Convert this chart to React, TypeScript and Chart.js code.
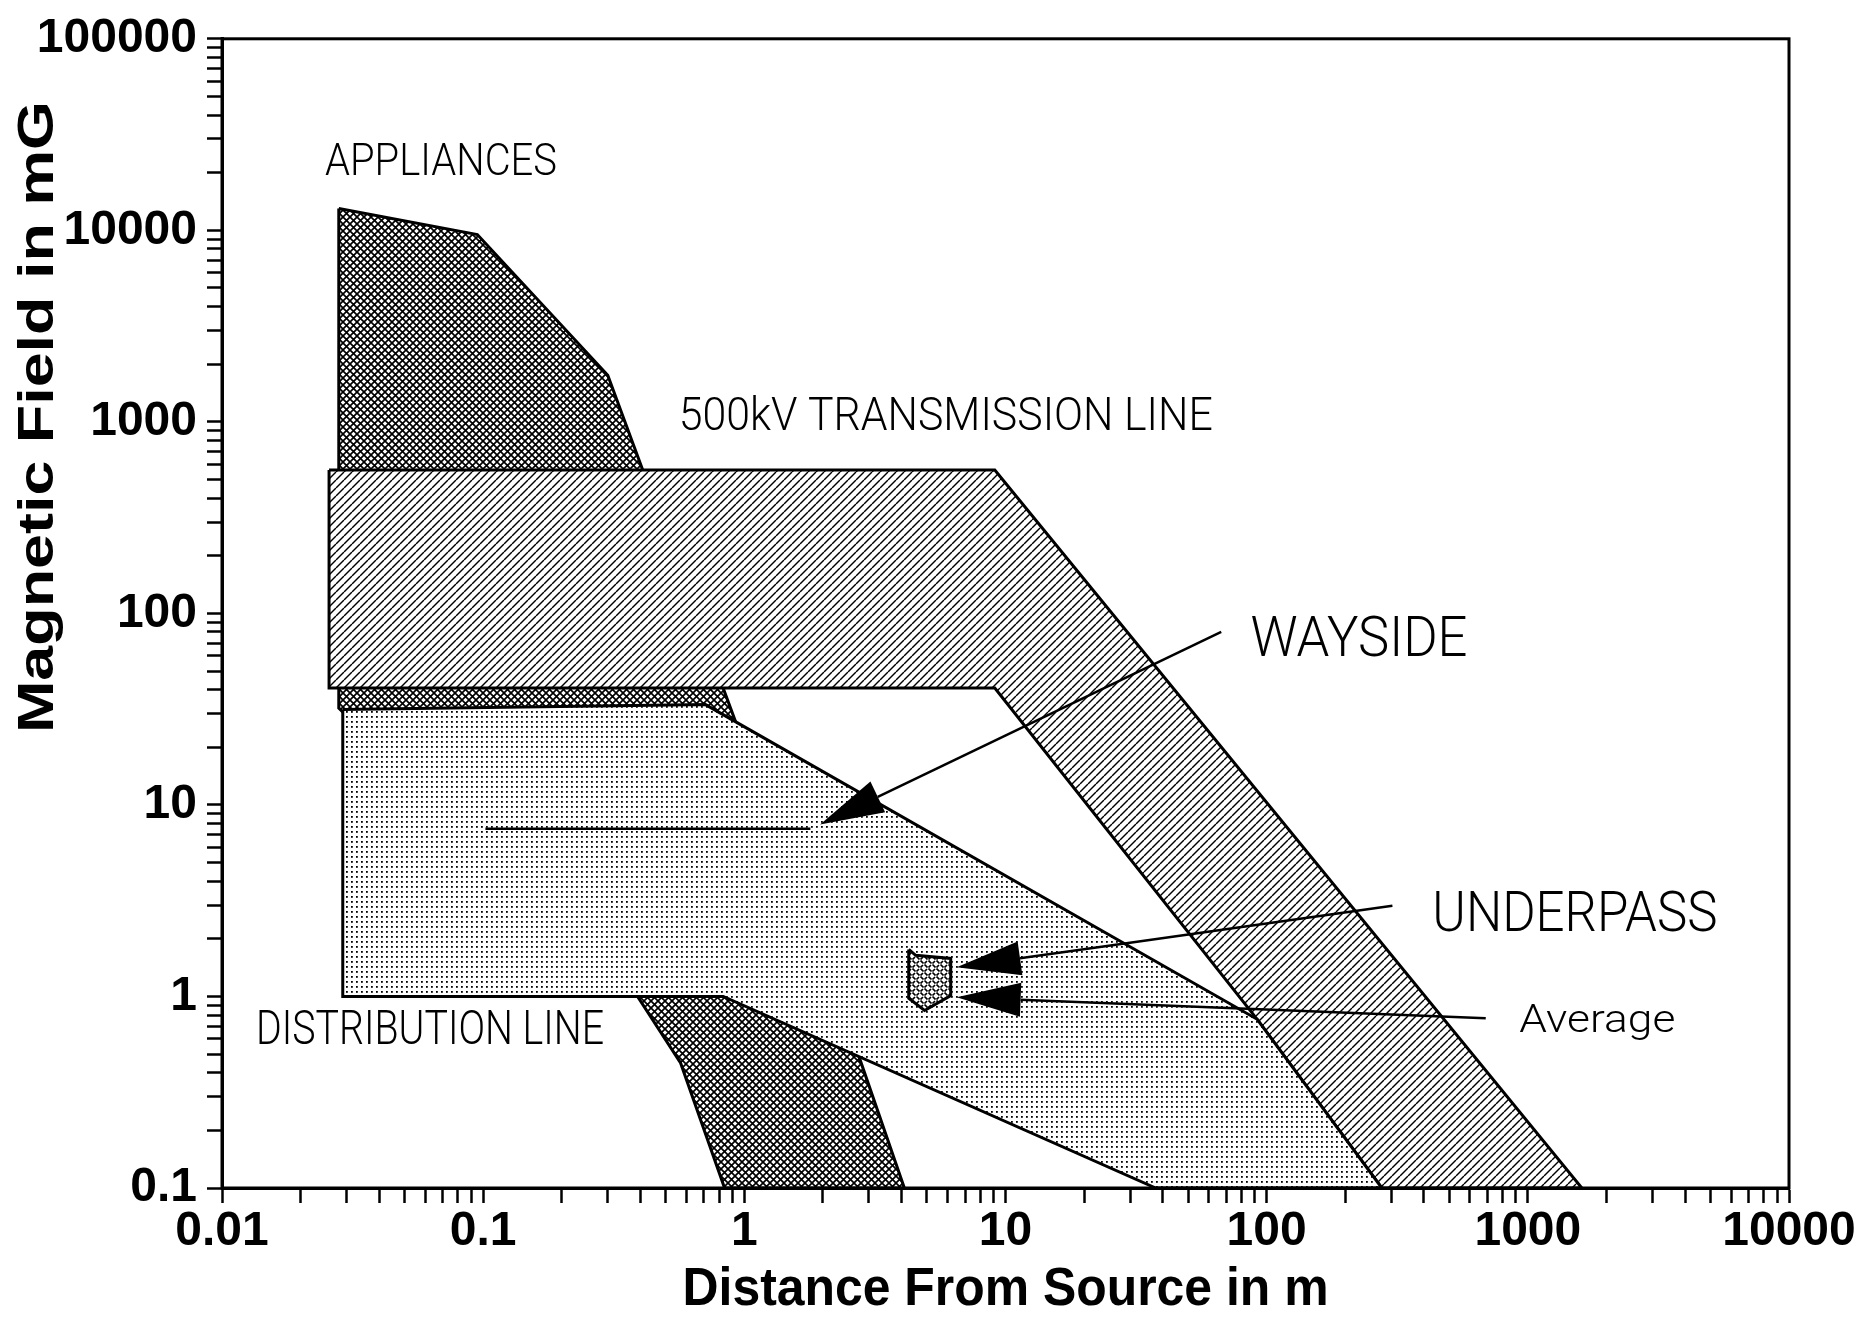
import React, { useEffect, useRef } from 'react';
import { Chart, registerables } from 'chart.js';

Chart.register(...registerables);

// ---------- data ----------
const xTickLabels = ['0.01', '0.1', '1', '10', '100', '1000', '10000'];
const yTickLabels = ['0.1', '1', '10', '100', '1000', '10000', '100000'];

const appliancesX = [0.028, 0.095, 0.3, 2.7, 4.1, 0.84, 0.57, 0.39, 0.04, 0.028, 0.028];
const appliancesY = [13000, 9500, 1750, 0.52, 0.1, 0.1, 0.45, 1.0, 20, 32, 13000];

const transmissionX = [0.0257, 9.1, 1610, 276, 92, 9.1, 0.0257, 0.0257];
const transmissionY = [560, 560, 0.1, 0.1, 0.76, 40.8, 40.8, 560];

const distributionX = [0.029, 0.71, 92, 276, 37.6, 0.83, 0.029, 0.029];
const distributionY = [31.5, 33.4, 0.76, 0.1, 0.1, 1.0, 1.0, 31.5];

const underpassX = [4.26, 4.53, 6.17, 6.17, 4.9, 4.26, 4.26];
const underpassY = [1.76, 1.64, 1.58, 1.01, 0.845, 0.98, 1.76];

const waysideX = [0.102, 1.79];
const waysideY = [7.5, 7.5];

const arrowTailX = [67, 303, 690];
const arrowTailY = [80, 2.98, 0.77];
const arrowTipX = [1.95, 6.5, 6.5];
const arrowTipY = [7.9, 1.42, 0.99];

const labelTexts = ['APPLIANCES', '500kV TRANSMISSION LINE', 'WAYSIDE', 'UNDERPASS', 'Average', 'DISTRIBUTION LINE'];
const labelX = [0.0248, 0.561, 86.7, 431, 928, 0.0135];
const labelY = [23650, 1104, 76.6, 2.78, 0.776, 0.689];

const xTitle = 'Distance From Source in m';
const yTitle = 'Magnetic Field in mG';

// ---------- styles ----------
const labelStyle = {
  cap: [32, 33, 40, 40, 28, 34],
  width: [232, 534, 217, 285, 156, 348],
};
const LABEL_FONT = 'Roboto, "DejaVu Sans", sans-serif';
const AXIS_FONT = '"Liberation Sans", Arial, sans-serif';

function makePattern(kind: string): CanvasPattern | string {
  const c = document.createElement('canvas');
  const s = kind === 'cross' ? 7 : kind === 'diag' ? 8 : kind === 'dots' ? 5 : 8;
  c.width = s;
  c.height = s;
  const g = c.getContext('2d')!;
  g.fillStyle = '#fff';
  g.fillRect(0, 0, s, s);
  g.strokeStyle = '#000';
  g.fillStyle = '#000';
  if (kind === 'cross') {
    g.lineWidth = 1.7;
    for (const k of [-s, 0, s]) {
      g.beginPath();
      g.moveTo(k, 0); g.lineTo(k + s, s);
      g.moveTo(k + s, 0); g.lineTo(k, s);
      g.stroke();
    }
  } else if (kind === 'diag') {
    g.lineWidth = 1.4;
    for (const k of [-s, 0, s]) {
      g.beginPath();
      g.moveTo(k, s); g.lineTo(k + s, 0);
      g.stroke();
    }
  } else if (kind === 'dots') {
    g.fillRect(1, 1, 1.8, 1.8);
  } else {
    g.lineWidth = 1.7;
    g.beginPath();
    g.moveTo(0.5, 0.5); g.lineTo(3.5, 3.5);
    g.moveTo(4.5, 4.5); g.lineTo(7.5, 7.5);
    g.moveTo(4.5, 3.5); g.lineTo(7, 1);
    g.moveTo(0.5, 7.5); g.lineTo(3, 5);
    g.stroke();
  }
  return g.createPattern(c, 'repeat') || '#ccc';
}

function buildLogTicks(minExp: number, maxExp: number) {
  const out: { value: number }[] = [];
  for (let e = minExp; e < maxExp; e++) {
    for (let m = 1; m <= 9; m++) out.push({ value: Number((m * Math.pow(10, e)).toPrecision(12)) });
  }
  out.push({ value: Math.pow(10, maxExp) });
  return out;
}

function tickLabel(v: number, labels: string[], minExp: number) {
  const e = Math.log10(v);
  const r = Math.round(e);
  if (Math.abs(e - r) < 1e-6) return labels[r - minExp] ?? '';
  return '';
}

function drawFitted(ctx: CanvasRenderingContext2D, text: string, x: number, yMid: number, cap: number, width: number, font: string, weight: string) {
  const size = cap / 0.711;
  ctx.font = `${weight} ${size}px ${font}`;
  const w = ctx.measureText(text).width;
  ctx.save();
  ctx.translate(x, yMid);
  ctx.scale(width / w, 1);
  ctx.textAlign = 'left';
  ctx.textBaseline = 'alphabetic';
  ctx.fillStyle = '#000';
  ctx.fillText(text, 0, cap / 2);
  ctx.restore();
}

const annotPlugin = {
  id: 'annot',
  afterDatasetsDraw(chart: any) {
    const ctx: CanvasRenderingContext2D = chart.ctx;
    const xs = chart.scales.x;
    const ys = chart.scales.y;
    ctx.save();
    // arrows
    for (let i = 0; i < arrowTailX.length; i++) {
      const tx = xs.getPixelForValue(arrowTailX[i]);
      const ty = ys.getPixelForValue(arrowTailY[i]);
      const px = xs.getPixelForValue(arrowTipX[i]);
      const py = ys.getPixelForValue(arrowTipY[i]);
      const dx = tx - px, dy = ty - py;
      const len = Math.hypot(dx, dy);
      const ux = dx / len, uy = dy / len;
      const headLen = 64, headHalf = 17;
      const bx = px + ux * headLen, by = py + uy * headLen;
      ctx.strokeStyle = '#000';
      ctx.lineWidth = 2.5;
      ctx.beginPath();
      ctx.moveTo(tx, ty);
      ctx.lineTo(bx, by);
      ctx.stroke();
      ctx.fillStyle = '#000';
      ctx.beginPath();
      ctx.moveTo(px, py);
      ctx.lineTo(bx - uy * headHalf, by + ux * headHalf);
      ctx.lineTo(bx + uy * headHalf, by - ux * headHalf);
      ctx.closePath();
      ctx.fill();
    }
    // labels
    for (let i = 0; i < labelTexts.length; i++) {
      const x = xs.getPixelForValue(labelX[i]);
      const y = ys.getPixelForValue(labelY[i]);
      drawFitted(ctx, labelTexts[i], x, y, labelStyle.cap[i], labelStyle.width[i], LABEL_FONT, '300');
    }
    ctx.restore();
  },
  afterDraw(chart: any) {
    const ctx: CanvasRenderingContext2D = chart.ctx;
    const a = chart.chartArea;
    ctx.save();
    ctx.strokeStyle = '#000';
    ctx.lineWidth = 3;
    ctx.strokeRect(a.left, a.top, a.right - a.left, a.bottom - a.top);
    // x title
    const xMid = (a.left + a.right) / 2;
    ctx.font = `bold 53px ${AXIS_FONT}`;
    let w = ctx.measureText(xTitle).width;
    ctx.save();
    ctx.translate(xMid, 1290);
    ctx.scale(646 / w, 1);
    ctx.textAlign = 'center';
    ctx.textBaseline = 'middle';
    ctx.fillStyle = '#000';
    ctx.fillText(xTitle, 0, 0);
    ctx.restore();
    // y title
    ctx.font = `bold 50px ${AXIS_FONT}`;
    w = ctx.measureText(yTitle).width;
    ctx.save();
    ctx.translate(39, 417);
    ctx.rotate(-Math.PI / 2);
    ctx.scale(632 / w, 1);
    ctx.textAlign = 'center';
    ctx.textBaseline = 'middle';
    ctx.fillStyle = '#000';
    ctx.fillText(yTitle, 0, 0);
    ctx.restore();
    ctx.restore();
  },
};

function toPoints(xs: number[], ys: number[]) {
  return xs.map((x, i) => ({ x, y: ys[i] }));
}

export default function App() {
  const ref = useRef<HTMLCanvasElement>(null);
  useEffect(() => {
    const canvas = ref.current!;
    const cross = makePattern('cross');
    const diag = makePattern('diag');
    const dots = makePattern('dots');
    const weave = makePattern('weave');
    const shape = (label: string, xs: number[], ys: number[], bg: any, order: number) => ({
      label,
      data: toPoints(xs, ys),
      fill: 'shape',
      backgroundColor: bg,
      borderColor: '#000',
      borderWidth: 3,
      borderJoinStyle: 'miter',
      pointRadius: 0,
      tension: 0,
      order,
    });
    const chart = new Chart(canvas, {
      type: 'line',
      data: {
        datasets: [
          shape('Appliances', appliancesX, appliancesY, cross, 5) as any,
          shape('500kV Transmission Line', transmissionX, transmissionY, diag, 4) as any,
          shape('Distribution Line', distributionX, distributionY, dots, 3) as any,
          shape('Underpass', underpassX, underpassY, weave, 2) as any,
          {
            label: 'Wayside',
            data: toPoints(waysideX, waysideY),
            fill: false,
            borderColor: '#000',
            borderWidth: 2.5,
            pointRadius: 0,
            order: 1,
          } as any,
        ],
      },
      options: {
        responsive: false,
        animation: false,
        devicePixelRatio: 1,
        layout: { padding: { left: 0, top: 38, right: 79, bottom: 0 } },
        plugins: { legend: { display: false }, tooltip: { enabled: false } },
        events: [],
        scales: {
          x: {
            type: 'logarithmic',
            position: 'bottom',
            min: 0.01,
            max: 10000,
            afterBuildTicks: (s: any) => { s.ticks = buildLogTicks(-2, 4); },
            afterFit: (s: any) => { s.height = 131; },
            grid: { drawOnChartArea: false, drawTicks: true, tickLength: 15, tickWidth: 2.5, tickColor: '#000' },
            border: { display: true, color: '#000', width: 3 },
            ticks: {
              autoSkip: false,
              maxRotation: 0,
              minRotation: 0,
              padding: 0,
              color: '#000',
              font: { family: AXIS_FONT, size: 48, weight: 'bold' },
              callback: (v: any) => tickLabel(Number(v), xTickLabels, -2),
            },
          },
          y: {
            type: 'logarithmic',
            position: 'left',
            min: 0.1,
            max: 100000,
            afterBuildTicks: (s: any) => { s.ticks = buildLogTicks(-1, 5); },
            afterFit: (s: any) => { s.width = 222; },
            grid: { drawOnChartArea: false, drawTicks: true, tickLength: 15, tickWidth: 2.5, tickColor: '#000' },
            border: { display: true, color: '#000', width: 3 },
            ticks: {
              autoSkip: false,
              padding: 10,
              color: '#000',
              font: { family: AXIS_FONT, size: 48, weight: 'bold' },
              callback: (v: any) => tickLabel(Number(v), yTickLabels, -1),
            },
          },
        },
      } as any,
      plugins: [annotPlugin],
    });
    return () => chart.destroy();
  }, []);
  return (
    <div style={{ position: 'absolute', left: 0, top: 0, width: 1868, height: 1319, background: '#fff' }}>
      <canvas ref={ref} width={1868} height={1319} style={{ display: 'block', width: 1868, height: 1319 }} />
    </div>
  );
}
